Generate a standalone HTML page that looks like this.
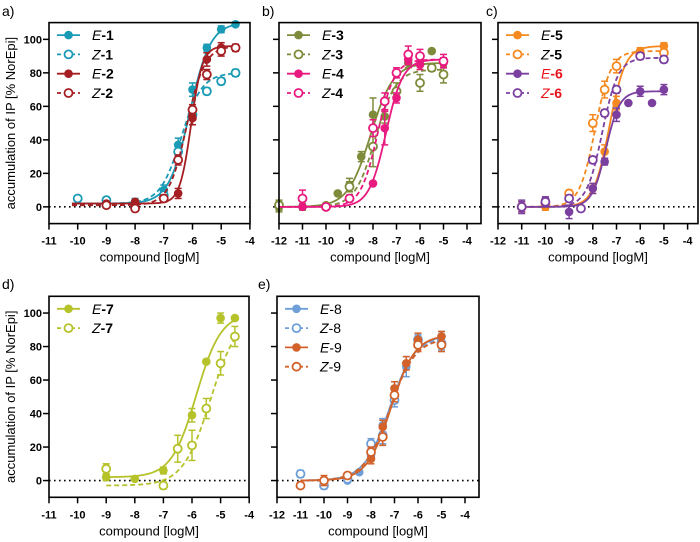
<!DOCTYPE html>
<html><head><meta charset="utf-8"><style>
html,body{margin:0;padding:0;background:#fff;}
svg{display:block;font-family:"Liberation Sans",Arial,sans-serif;}
</style></head><body>
<svg id="fig" width="700" height="542" viewBox="0 0 700 542" xmlns="http://www.w3.org/2000/svg"></svg>
<script>
// ---- data ----
const a_E1_x=[-9,-8,-7,-6.5,-6,-5.5,-5,-4.5]; const a_E1_y=[2,3,10,37,70,95,106,109]; const a_E1_e=[1,2,3,4,4,2,2,1];
const a_Z1_x=[-10,-9,-8,-7,-6.5,-6,-5.5,-5,-4.5]; const a_Z1_y=[5,4,2,7,33,55,69,75,80]; const a_Z1_e=[1,1,1,2,3,3,2,2,2];
const a_E2_x=[-9,-8,-7,-6.5,-6,-5.5,-5,-4.5]; const a_E2_y=[2,3,5,8,53,88,95,95]; const a_E2_e=[1,1,2,3,4,4,3,2];
const a_Z2_x=[-9,-8,-7,-6.5,-6,-5.5,-5,-4.5]; const a_Z2_y=[1,-1,5,28,58,79,93,95]; const a_Z2_e=[1,1,2,3,3,3,3,2];
const b_E3_x=[-12,-11,-10,-9.5,-9,-8.5,-8,-7.5,-6.5,-6,-5.5]; const b_E3_y=[0,0,1,8,13,30,55,54,86,85,93]; const b_E3_e=[3,2,1,1,4,3,10,4,3,3,1];
const b_Z3_x=[-12,-10,-9,-8,-7,-6,-5.5,-5]; const b_Z3_y=[1,0,12,36,69,74,83,79]; const b_Z3_e=[3,1,3,12,5,5,2,5];
const b_E4_x=[-11,-10,-9,-8,-7.5,-7,-6.5,-6,-5]; const b_E4_y=[0,0,5,14,47,65,88,85,86]; const b_E4_e=[1,1,1,1,10,3,3,3,3];
const b_Z4_x=[-11,-10,-9,-8,-7.5,-7,-6.5,-6,-5]; const b_Z4_y=[5,0,5,47,63,80,91,90,87]; const b_Z4_e=[5,1,2,5,5,3,5,4,4];
const c_E5_x=[-11,-10,-9,-8,-7.5,-7,-6,-5]; const c_E5_y=[0,0,6,11,33,62,93,96]; const c_E5_e=[3,2,2,3,4,4,2,2];
const c_Z5_x=[-11,-10,-9,-8,-7.5,-7,-6,-5]; const c_Z5_y=[0,2,8,50,70,84,91,92]; const c_Z5_e=[3,2,2,5,5,4,2,2];
const c_E6_x=[-11,-10,-9,-8,-7.5,-7,-6.5,-6,-5.5,-5]; const c_E6_y=[0,4,-3,11,27,55,62,69,62,70]; const c_E6_e=[4,2,4,3,2,4,1,3,1,3];
const c_Z6_x=[-11,-10,-9,-8.5,-8,-7.5,-7,-6,-5]; const c_Z6_y=[0,3,5,-1,28,56,70,90,88]; const c_Z6_e=[3,2,2,1,2,2,2,2,2];
const d_E7_x=[-9,-8,-7,-6,-5.5,-5,-4.5]; const d_E7_y=[2,1,6,39,71,97,97]; const d_E7_e=[2,1,2,4,1,3,1];
const d_Z7_x=[-9,-7,-6.5,-6,-5.5,-5,-4.5]; const d_Z7_y=[7,-3,19,21,43,70,86]; const d_Z7_e=[3,2,8,9,6,7,6];
const e_E8_x=[-9,-8.5,-8,-7.5,-7,-6.5,-6,-5]; const e_E8_y=[0,5,15,33,55,68,83,86]; const e_E8_e=[1,1,3,4,4,6,3,3];
const e_Z8_x=[-11,-10,-9,-8,-7.5,-7,-6,-5]; const e_Z8_y=[4,-3,1,22,27,48,84,82]; const e_Z8_e=[2,2,1,3,5,4,3,4];
const e_E9_x=[-8,-7.5,-7,-6.5,-6,-5]; const e_E9_y=[13,32,55,70,84,86]; const e_E9_e=[3,4,4,4,4,3];
const e_Z9_x=[-11,-10,-9,-8,-7.5,-7,-6,-5]; const e_Z9_y=[-3,0,3,17,26,51,81,81]; const e_Z9_e=[1,3,1,3,5,4,4,4];
// fit parameters: bottom, top, logEC50, hill
const a_E1_fit=[2,110,-6.1,1.2], a_Z1_fit=[2,80,-6.4,1.2], a_E2_fit=[2,96,-6.05,2.2], a_Z2_fit=[1,96,-6.2,1.4];
const b_E3_fit=[0,86,-8.1,0.9], b_Z3_fit=[0,82,-7.9,1.0], b_E4_fit=[0,88,-7.45,1.2], b_Z4_fit=[0,88,-7.8,1.2];
const c_E5_fit=[0,96,-7.3,1.3], c_Z5_fit=[0,93,-7.9,1.3], c_E6_fit=[0,69,-7.45,1.5], c_Z6_fit=[0,89,-7.6,1.3];
const d_E7_fit=[2,100,-5.85,1.0], d_Z7_fit=[-3,100,-5.35,0.9];
const e_E8_fit=[0,87,-7.2,0.8], e_Z8_fit=[0,86,-7.2,0.8], e_E9_fit=[0,87,-7.15,0.85], e_Z9_fit=[0,85,-7.2,0.8];
const xTicksA=[-11,-10,-9,-8,-7,-6,-5,-4];
const xTicksB=[-12,-11,-10,-9,-8,-7,-6,-5,-4];
const yTicks=[0,20,40,60,80,100];

const NS='http://www.w3.org/2000/svg';
const svg=document.getElementById('fig');
function mk(tag,attrs,parent){const e=document.createElementNS(NS,tag);for(const k in attrs)e.setAttribute(k,attrs[k]);(parent||svg).appendChild(e);return e;}

const panels=[
 {id:'a',label:'a)',lx:2,ly:16,x0:49,xmin:-11,ppu:28.7,w:201,top:22.6,ylab:true,ticks:xTicksA,xr:[-10.2,-4.4],
  series:[['E',' -1','#1a9bb5',true,a_E1_x,a_E1_y,a_E1_e,a_E1_fit],['Z','-1','#1a9bb5',false,a_Z1_x,a_Z1_y,a_Z1_e,a_Z1_fit],['E','-2','#a51e22',true,a_E2_x,a_E2_y,a_E2_e,a_E2_fit],['Z','-2','#a51e22',false,a_Z2_x,a_Z2_y,a_Z2_e,a_Z2_fit]],bold:true},
 {id:'b',label:'b)',lx:262,ly:16,x0:279,xmin:-12,ppu:23.5,w:202,top:22.6,ylab:false,ticks:xTicksB,xr:[-12,-5],
  series:[['E','-3','#7d8b3a',true,b_E3_x,b_E3_y,b_E3_e,b_E3_fit],['Z','-3','#7d8b3a',false,b_Z3_x,b_Z3_y,b_Z3_e,b_Z3_fit],['E','-4','#e8197f',true,b_E4_x,b_E4_y,b_E4_e,b_E4_fit],['Z','-4','#e8197f',false,b_Z4_x,b_Z4_y,b_Z4_e,b_Z4_fit]],bold:true},
 {id:'c',label:'c)',lx:486,ly:16,x0:498,xmin:-12,ppu:23.7,w:200,top:22.6,ylab:false,ticks:xTicksB,xr:[-11,-5],
  series:[['E','-5','#f5891f',true,c_E5_x,c_E5_y,c_E5_e,c_E5_fit],['Z','-5','#f5891f',false,c_Z5_x,c_Z5_y,c_Z5_e,c_Z5_fit],['E','-6','#7b3fa0',true,c_E6_x,c_E6_y,c_E6_e,c_E6_fit,'#e8141c'],['Z','-6','#7b3fa0',false,c_Z6_x,c_Z6_y,c_Z6_e,c_Z6_fit,'#e8141c']],bold:true},
 {id:'d',label:'d)',lx:2,ly:289,x0:49,xmin:-11,ppu:28.6,w:200,top:296.3,ylab:true,ticks:xTicksA,xr:[-9,-4.5],
  series:[['E','-7','#b5c22a',true,d_E7_x,d_E7_y,d_E7_e,d_E7_fit],['Z','-7','#b5c22a',false,d_Z7_x,d_Z7_y,d_Z7_e,d_Z7_fit]],bold:true},
 {id:'e',label:'e)',lx:258,ly:289,x0:277,xmin:-12,ppu:23.5,w:202,top:296.3,ylab:false,ticks:xTicksB,xr:[-11,-5],
  series:[['E','-8','#6f9fd8',true,e_E8_x,e_E8_y,e_E8_e,e_E8_fit],['Z','-8','#6f9fd8',false,e_Z8_x,e_Z8_y,e_Z8_e,e_Z8_fit],['E','-9','#d2622a',true,e_E9_x,e_E9_y,e_E9_e,e_E9_fit],['Z','-9','#d2622a',false,e_Z9_x,e_Z9_y,e_Z9_e,e_Z9_fit]],bold:false}
];

panels.forEach(p=>{
  const g=mk('g',{});
  
  
  const X=v=>p.x0+(v-p.xmin)*p.ppu;
  const Y=v=>p.top+(110-v)*1.675;
  const bottom=Y(-10);
  const lab=mk('text',{x:p.lx,y:p.ly,'font-size':14,fill:'#000'},g);lab.textContent=p.label;
  
  
  // baseline dotted
  const bl=mk('line',{x1:p.x0,x2:p.x0+p.w,y1:Y(0),y2:Y(0),stroke:'#000','stroke-width':1.6,'stroke-dasharray':'1.6 3.4'},g);
  
  
  // y ticks
  yTicks.forEach(t=>{
    mk('line',{x1:p.x0-6,x2:p.x0,y1:Y(t),y2:Y(t),stroke:'#000','stroke-width':1.5},g);
    if(p.ylab){const tt=mk('text',{x:p.x0-7,y:Y(t)+4,'font-size':11,'font-weight':'bold','text-anchor':'end'},g);tt.textContent=t;
      
      }
  });
  p.ticks.forEach(t=>{
    mk('line',{x1:X(t),x2:X(t),y1:bottom,y2:bottom+6,stroke:'#000','stroke-width':1.5},g);
    const tt=mk('text',{x:X(t),y:bottom+21,'font-size':11,'font-weight':'bold','text-anchor':'middle'},g);tt.textContent=t;
    
    
  });
  const xt=mk('text',{x:p.x0+p.w/2,y:bottom+38,'font-size':13,'text-anchor':'middle'},g);xt.textContent='compound [logM]';
  
  
  if(p.ylab){const cy=(p.top+bottom)/2;const yt=mk('text',{x:0,y:0,'font-size':13,'text-anchor':'middle',transform:`translate(15,${cy}) rotate(-90)`},g);yt.textContent='accumulation of IP [% NorEpi]';
    
    }
  // series
  p.series.forEach((s,i)=>{
    const [iso,num,col,filled,xs,ys,es,fit]=s;
    const sg=mk('g',{},g);
    
    
    let d='';
    for(let k=0;k<=120;k++){const v=p.xr[0]+(p.xr[1]-p.xr[0])*k/120;
      const yv=fit[0]+(fit[1]-fit[0])/(1+Math.pow(10,(fit[2]-v)*fit[3]));
      d+=(k?'L':'M')+X(v).toFixed(2)+' '+Y(yv).toFixed(2);}
    const c=mk('path',{d:d,fill:'none',stroke:col,'stroke-width':1.8,'stroke-dasharray':filled?'none':'5 3'},sg);
    
    
    xs.forEach((xv,k)=>{
      const px=X(xv),py=Y(ys[k]),e=es[k]*1.675;
      if(e>2){mk('line',{x1:px,x2:px,y1:py-e,y2:py+e,stroke:col,'stroke-width':1.5},sg);
        mk('line',{x1:px-3.5,x2:px+3.5,y1:py-e,y2:py-e,stroke:col,'stroke-width':1.5},sg);
        mk('line',{x1:px-3.5,x2:px+3.5,y1:py+e,y2:py+e,stroke:col,'stroke-width':1.5},sg);}
      const m=mk('circle',{cx:px,cy:py,r:filled?4.3:4,fill:filled?col:'#fff',stroke:col,'stroke-width':filled?0:1.8},sg);
      
      
    });
    // legend
    const ly=p.top+12.5+i*19.3, lx=p.x0+8;
    const lg=mk('g',{},g);
    
    
    mk('line',{x1:lx,x2:lx+23,y1:ly,y2:ly,stroke:col,'stroke-width':1.8,'stroke-dasharray':filled?'none':'4 3'},lg);
    mk('circle',{cx:lx+11.5,cy:ly,r:filled?4.3:4,fill:filled?col:'#fff',stroke:col,'stroke-width':filled?0:1.8},lg);
    const tc=s[8]||'#000';
    const t=mk('text',{x:lx+35,y:ly+5,'font-size':14,fill:tc},lg);
    const t1=mk('tspan',{'font-style':'italic'},t);t1.textContent=iso;
    const t2=mk('tspan',{'font-weight':p.bold?'bold':'normal'},t);t2.textContent=num.trim();
  });
  const fr=mk('rect',{x:p.x0,y:p.top,width:p.w,height:bottom-p.top,fill:'none',stroke:'#000','stroke-width':1.6},g);
  
  
});
</script>
</body></html>
